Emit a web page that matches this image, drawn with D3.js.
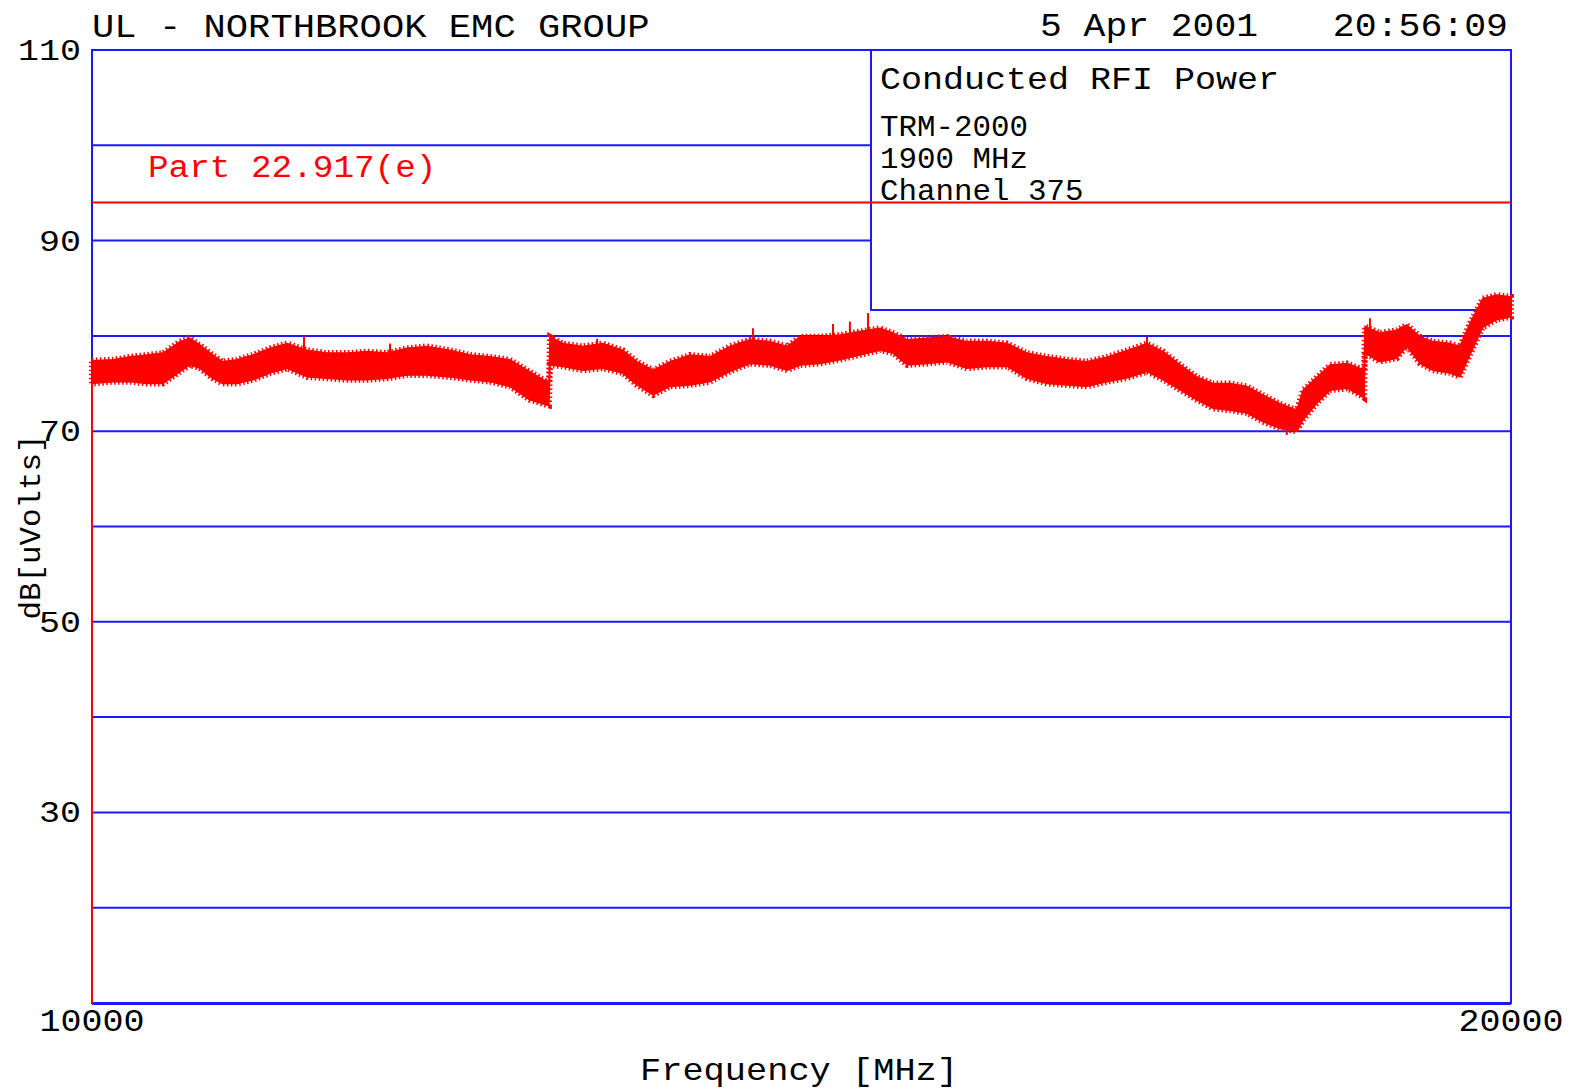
<!DOCTYPE html>
<html><head><meta charset="utf-8">
<script src="https://cdn.jsdelivr.net/npm/d3@7/dist/d3.min.js"></script>
<style>body{margin:0;background:#fff}svg{display:block}</style>
</head><body><svg id="c" width="1570" height="1091"></svg>
<script>
// ---- data ----
const freqMHz = [10000,10150,10270,10390,10500,10620,10690,10760,10850,10920,11020,11135,11255,11375,11515,11655,11800,11940,12080,12220,12360,12520,12665,12805,12945,13085,13205,13220,13228,13320,13460,13600,13740,13840,13955,14075,14215,14355,14495,14635,14780,14900,14990,15130,15270,15410,15555,15645,15745,15885,16025,16165,16310,16450,16590,16730,16870,17010,17155,17300,17435,17550,17670,17785,17900,18020,18140,18250,18370,18490,18535,18635,18725,18845,18935,18965,18971,19075,19195,19265,19360,19450,19570,19640,19710,19800,19900,20000];
const levelHigh = [77.4,77.5,77.8,78.0,78.2,79.4,79.75,79.05,78.0,77.3,77.5,78.0,78.7,79.2,78.5,78.2,78.2,78.35,78.2,78.7,78.9,78.5,78.0,77.8,77.5,76.25,75.2,75.0,79.9,79.2,78.9,79.2,78.5,77.3,76.4,77.3,78.0,77.8,78.9,79.6,79.4,78.9,79.9,79.9,80.1,80.45,80.8,80.3,79.6,79.75,79.9,79.4,79.4,79.2,78.2,77.8,77.5,77.3,77.8,78.5,79.2,78.35,76.95,75.7,75.0,75.0,74.7,73.8,72.9,72.2,74.3,75.7,76.95,77.1,76.6,76.4,81.0,80.3,80.6,81.15,79.9,79.4,79.2,78.9,81.3,83.9,84.3,84.1];
const levelLow = [75.0,75.2,75.2,75.0,75.0,76.25,76.95,76.6,75.55,75.0,75.0,75.4,76.1,76.6,75.7,75.55,75.4,75.4,75.55,75.9,75.9,75.7,75.4,75.2,74.7,73.3,72.75,72.7,76.95,76.8,76.4,76.6,76.1,74.85,73.8,74.7,74.85,75.2,76.25,77.1,76.95,76.4,76.95,77.1,77.5,78.0,78.5,78.2,76.95,77.1,77.3,76.6,76.8,76.8,75.55,75.0,74.85,74.7,75.2,75.6,76.25,75.4,74.3,73.3,72.4,72.2,71.9,71.0,70.3,70.0,71.2,73.0,74.3,74.5,73.8,73.5,78.2,77.3,77.65,78.9,77.1,76.4,76.1,75.7,78.0,80.9,81.7,82.0];
const spikeFreq = [10677,11494,12100,13249,13560,14658,15222,15341,15469,16050,17435,18420,19006,19230];
const spikeLevel = [80.1,80.0,79.2,80.1,79.7,80.8,81.25,81.5,82.4,80.1,79.9,69.6,81.85,81.0];
const gridLevels = [20,30,40,50,60,70,80,90,100];
const yTickLabels = [110,90,70,50,30];
const xTickLabels = [10000,20000];
const limitLevel = 94;
const titleText = "UL - NORTHBROOK EMC GROUP";
const dateText = "5 Apr 2001";
const timeText = "20:56:09";
const limitLabel = "Part 22.917(e)";
const legendTitle = "Conducted RFI Power";
const legendLines = ["TRM-2000","1900 MHz","Channel 375"];
const xTitle = "Frequency [MHz]";
const yTitle = "dB[uVolts]";

// ---- layout ----
const L=92,R=1511,T=50,B=1003;
const BLUE="#1a1aff", RED="#ff0000";
const FONT="'Liberation Mono','DejaVu Sans Mono',monospace";
const svg=d3.select("#c");
const x=d3.scaleLinear().domain([10000,20000]).range([L,R]);
const y=d3.scaleLinear().domain([10,110]).range([B,T]);
const boxX=871, boxY2=310;

function txt(s,px,py,opt){
  const t=svg.append("text").attr("x",px).attr("y",py).text(s)
    .attr("font-family",FONT).attr("font-size",opt.size).attr("fill",opt.fill||"#000")
    .attr("text-anchor",opt.anchor||"start");
  if(opt.len){t.attr("textLength",opt.len).attr("lengthAdjust","spacingAndGlyphs");}
  return t;
}

// grid
svg.append("g").selectAll("line").data(gridLevels).join("line")
  .attr("x1",L).attr("x2",R).attr("y1",d=>y(d)).attr("y2",d=>y(d))
  .attr("stroke",BLUE).attr("stroke-width",2);
// frame
svg.append("rect").attr("x",L).attr("y",T).attr("width",R-L).attr("height",B-T)
  .attr("fill","none").attr("stroke",BLUE).attr("stroke-width",2);
svg.append("line").attr("x1",L).attr("x2",R).attr("y1",B+1).attr("y2",B+1).attr("stroke",BLUE).attr("stroke-width",2);
// legend box
svg.append("rect").attr("x",boxX).attr("y",T).attr("width",R-boxX).attr("height",boxY2-T)
  .attr("fill","#fff").attr("stroke",BLUE).attr("stroke-width",2);
// limit line
svg.append("line").attr("x1",L).attr("x2",R).attr("y1",y(limitLevel)).attr("y2",y(limitLevel))
  .attr("stroke",RED).attr("stroke-width",2);

// trace (min/max envelope of the noisy sweep)
const data=freqMHz.map((f,i)=>({f,lo:levelLow[i],hi:levelHigh[i]}));
const areaGen=d3.area().x(d=>x(d.f)).y0(d=>y(d.lo)).y1(d=>y(d.hi));
svg.append("path").datum(data).attr("d",areaGen)
  .attr("fill",RED).attr("stroke",RED).attr("stroke-width",6).attr("stroke-dasharray","1.5 2.5");
svg.append("path").datum(data).attr("d",areaGen)
  .attr("fill",RED).attr("stroke",RED).attr("stroke-width",1.5);
const hiAt=d3.scaleLinear().domain(freqMHz).range(levelHigh);
const loAt=d3.scaleLinear().domain(freqMHz).range(levelLow);
svg.append("g").selectAll("line").data(spikeFreq.map((f,i)=>({f,v:spikeLevel[i]}))).join("line")
  .attr("x1",d=>x(d.f)).attr("x2",d=>x(d.f))
  .attr("y1",d=>y(d.v)).attr("y2",d=>y((hiAt(d.f)+loAt(d.f))/2))
  .attr("stroke",RED).attr("stroke-width",2);
// red start line at left edge
svg.append("line").attr("x1",L).attr("x2",L).attr("y1",B).attr("y2",y(levelLow[0]))
  .attr("stroke",RED).attr("stroke-width",2);

// texts
txt(titleText,92,37,{size:33,len:titleText.length*22.3});
txt(dateText,1040,36,{size:34,len:dateText.length*21.8});
txt(timeText,1508,36,{size:34,anchor:"end",len:timeText.length*21.9});
txt(limitLabel,148,177,{size:31,fill:RED,len:limitLabel.length*20.6});
txt(legendTitle,880,89,{size:32,len:legendTitle.length*21});
legendLines.forEach((s,i)=>txt(s,880,136+i*32,{size:29,len:s.length*18.5}));
yTickLabels.forEach(v=>txt(String(v),81,y(v)+10,{size:30,anchor:"end",len:String(v).length*21}));
xTickLabels.forEach(v=>txt(String(v),x(v),1031,{size:31,anchor:"middle",len:String(v).length*21}));
txt(xTitle,799,1080,{size:32,anchor:"middle",len:xTitle.length*21.2});
svg.append("text").attr("transform","translate(40,527) rotate(-90)").attr("text-anchor","middle")
  .attr("font-family",FONT).attr("font-size",29).attr("textLength",yTitle.length*18.5)
  .attr("lengthAdjust","spacingAndGlyphs").text(yTitle);
</script></body></html>
